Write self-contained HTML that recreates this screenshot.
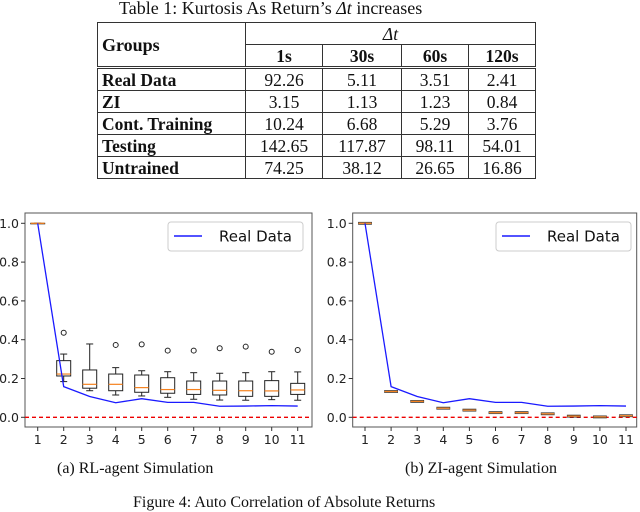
<!DOCTYPE html>
<html><head><meta charset="utf-8"><style>
body{margin:0;background:#fff;width:640px;height:504px;overflow:hidden;position:relative;font-family:"Liberation Serif",serif}
.t{position:absolute;white-space:nowrap;color:#111}
table{position:absolute;left:97px;top:22px;border-collapse:collapse;font-family:"Liberation Serif",serif;font-size:17.5px;color:#111}
td{border:1.5px solid #333;padding:0;height:21px;line-height:20px;text-align:center}
td.g{text-align:left;padding-left:4px;font-weight:bold}
</style></head><body>
<div class="t" style="left:119px;top:-2px;font-size:18px">Table 1: Kurtosis As Return’s <i>Δt</i> increases</div>
<table>
<tr style="height:21px"><td class="g" rowspan="2" style="width:143px;font-size:18px">Groups</td><td colspan="4"><i>Δt</i></td></tr>
<tr style="border-bottom:3px double #333"><td style="width:76px;font-weight:bold">1s</td><td style="width:78px;font-weight:bold">30s</td><td style="width:66px;font-weight:bold">60s</td><td style="width:66px;font-weight:bold">120s</td></tr>
<tr><td class="g">Real Data</td><td>92.26</td><td>5.11</td><td>3.51</td><td>2.41</td></tr>
<tr><td class="g">ZI</td><td>3.15</td><td>1.13</td><td>1.23</td><td>0.84</td></tr>
<tr><td class="g">Cont. Training</td><td>10.24</td><td>6.68</td><td>5.29</td><td>3.76</td></tr>
<tr><td class="g">Testing</td><td>142.65</td><td>117.87</td><td>98.11</td><td>54.01</td></tr>
<tr><td class="g">Untrained</td><td>74.25</td><td>38.12</td><td>26.65</td><td>16.86</td></tr>
</table>
<svg id="chart" width="640" height="504" style="position:absolute;left:0;top:0"></svg>
<div class="t" style="left:57px;top:460px;font-size:16px">(a) RL-agent Simulation</div>
<div class="t" style="left:405px;top:460px;font-size:16px">(b) ZI-agent Simulation</div>
<div class="t" style="left:133px;top:494px;font-size:16px">Figure 4: Auto Correlation of Absolute Returns</div>
<script>
const lags=[1,2,3,4,5,6,7,8,9,10,11];
const yTicks=[0,0.2,0.4,0.6,0.8,1.0];
const realData=[1.0,0.158,0.107,0.075,0.096,0.077,0.077,0.057,0.058,0.060,0.058];
const rlLow=[1,0.184,0.137,0.115,0.11,0.103,0.093,0.089,0.088,0.091,0.088];
const rlQ1=[1,0.213,0.15,0.137,0.129,0.124,0.118,0.115,0.108,0.108,0.118];
const rlMed=[1,0.223,0.17,0.17,0.153,0.143,0.143,0.139,0.137,0.136,0.141];
const rlQ3=[1,0.292,0.244,0.223,0.218,0.204,0.187,0.187,0.187,0.189,0.175];
const rlHigh=[1,0.326,0.378,0.256,0.24,0.235,0.23,0.227,0.23,0.235,0.234];
const rlOut=[null,0.436,null,0.373,0.376,0.344,0.344,0.356,0.364,0.338,0.347];
const ziMed=[1.0,0.133,0.082,0.047,0.037,0.024,0.024,0.018,0.006,0.002,0.008];
const svg=document.getElementById('chart');const NS='http://www.w3.org/2000/svg';
function mk(t,a,p){const e=document.createElementNS(NS,t);for(const k in a)e.setAttribute(k,a[k]);(p||svg).appendChild(e);return e;}
function panel(ox,x1,x11,right,name,boxes,legX){
 const g=mk('g',{});
 
 
 const X=v=>x1+(v-1)*(x11-x1)/10, Y=v=>417.3-v*194;
 mk('rect',{x:ox,y:213,width:right-ox,height:214,fill:'none',stroke:'#555','stroke-width':1},g);
 yTicks.forEach(t=>{mk('line',{x1:ox-4,x2:ox,y1:Y(t),y2:Y(t),stroke:'#333'},g);
  const tx=mk('text',{x:ox-6,y:Y(t)+4.5,'text-anchor':'end','font-size':12.5,'font-family':'DejaVu Sans,sans-serif',fill:'#222'},g);tx.textContent=t.toFixed(1);
  
  });
 lags.forEach(l=>{mk('line',{x1:X(l),x2:X(l),y1:427,y2:431,stroke:'#333'},g);
  const tx=mk('text',{x:X(l),y:444,'text-anchor':'middle','font-size':12.5,'font-family':'DejaVu Sans,sans-serif',fill:'#222'},g);tx.textContent=l;
  
  });
 mk('line',{x1:ox,x2:right,y1:Y(0),y2:Y(0),stroke:'#e00','stroke-dasharray':'4,3','stroke-width':1.3},g);
 boxes(X,Y,g);
 const pl=mk('polyline',{points:lags.map((l,i)=>X(l)+','+Y(realData[i])).join(' '),fill:'none',stroke:'#1a1aff','stroke-width':1.3},g);
 
 
 const lg=mk('g',{},g);
 
 
 mk('rect',{x:legX,y:222,width:135,height:29,rx:3,fill:'#fff',stroke:'#ccc'},lg);
 mk('line',{x1:legX+6,x2:legX+34,y1:236,y2:236,stroke:'#1a1aff','stroke-width':1.5},lg);
 const lt=mk('text',{x:legX+51,y:241.5,'font-size':15,'font-family':'DejaVu Sans,sans-serif',fill:'#111'},lg);lt.textContent='Real Data';
}
panel(25,37.7,297.7,312,'rl-agent-chart',(X,Y,g)=>{
 lags.forEach((l,i)=>{const bg=mk('g',{},g);
  
  
  const x=X(l),w=7;
  mk('line',{x1:x,x2:x,y1:Y(rlHigh[i]),y2:Y(rlQ3[i]),stroke:'#222'},bg);
  mk('line',{x1:x,x2:x,y1:Y(rlQ1[i]),y2:Y(rlLow[i]),stroke:'#222'},bg);
  mk('line',{x1:x-3.5,x2:x+3.5,y1:Y(rlHigh[i]),y2:Y(rlHigh[i]),stroke:'#222'},bg);
  mk('line',{x1:x-3.5,x2:x+3.5,y1:Y(rlLow[i]),y2:Y(rlLow[i]),stroke:'#222'},bg);
  mk('rect',{x:x-w,y:Y(rlQ3[i]),width:2*w,height:Math.max(0.5,Y(rlQ1[i])-Y(rlQ3[i])),fill:'none',stroke:'#222'},bg);
  mk('line',{x1:x-w,x2:x+w,y1:Y(rlMed[i]),y2:Y(rlMed[i]),stroke:'#f5821f','stroke-width':1.2},bg);
  if(rlOut[i]!=null)mk('circle',{cx:x,cy:Y(rlOut[i]),r:2.5,fill:'none',stroke:'#222'},bg);
 });
},168);
panel(352.7,365,626,636.7,'zi-agent-chart',(X,Y,g)=>{
 lags.forEach((l,i)=>{const bg=mk('g',{},g);
  
  
  const x=X(l);
  mk('rect',{x:x-6.5,y:Y(ziMed[i])-1,width:13,height:2,fill:'none',stroke:'#333','stroke-width':0.8},bg);
  mk('line',{x1:x-6.5,x2:x+6.5,y1:Y(ziMed[i]),y2:Y(ziMed[i]),stroke:'#f5821f','stroke-width':1.2},bg);
 });
},496);
</script>
</body></html>
